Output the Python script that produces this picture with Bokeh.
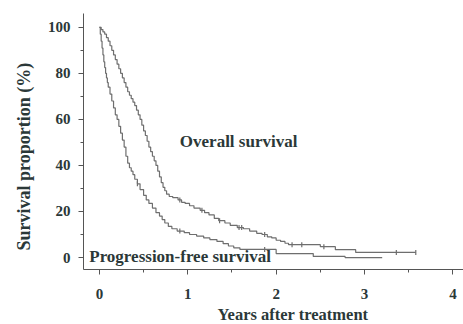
import numpy as np
from bokeh.plotting import figure
from bokeh.models import Label, Range1d, FixedTicker, Title
from bokeh.embed import file_html
from bokeh.resources import INLINE

# Overall survival (Kaplan-Meier steps)
os_time = [0, 0.02, 0.04, 0.06, 0.08, 0.10, 0.12, 0.14, 0.16, 0.18, 0.20, 0.22, 0.24,
           0.26, 0.28, 0.30, 0.32, 0.34, 0.36, 0.38, 0.40, 0.42, 0.44, 0.46, 0.48, 0.50,
           0.52, 0.54, 0.56, 0.58, 0.60, 0.62, 0.64, 0.66, 0.68, 0.70, 0.72, 0.74, 0.76,
           0.79, 0.83, 0.89, 0.93, 0.97, 1.02, 1.07, 1.14, 1.19, 1.24, 1.30, 1.35, 1.42,
           1.48, 1.56, 1.63, 1.70, 1.78, 1.84, 1.90, 1.95, 2.00, 2.05, 2.10, 2.14, 2.50,
           2.67, 2.90, 3.58]
os_surv = [100, 99, 98, 97, 95.5, 94, 92, 90, 88, 86, 84, 82, 80,
           78, 76, 74, 72, 70.5, 69, 67.5, 66, 64, 62, 60, 57.5, 55,
           53, 50.5, 48, 46, 44, 42, 40, 37.5, 35, 32.5, 30.5, 29, 27.5,
           26.5, 26, 25, 24, 23.5, 22.5, 21.5, 20.5, 19.5, 18.5, 17, 16, 15,
           14, 13, 12.5, 11.5, 10.5, 10, 9, 8.5, 7.5, 7, 6.2, 5.6, 4.7,
           3.4, 2.2, 2.2]
os_censor = [0.91, 1.16, 1.36, 1.58, 1.61, 1.87, 2.18, 2.29, 2.54, 3.36, 3.58]

# Progression-free survival
pfs_time = [0, 0.01, 0.02, 0.03, 0.04, 0.05, 0.06, 0.07, 0.08, 0.09, 0.10, 0.12, 0.14,
            0.16, 0.18, 0.20, 0.22, 0.24, 0.26, 0.28, 0.30, 0.32, 0.34, 0.36, 0.38, 0.40,
            0.43, 0.46, 0.50, 0.53, 0.56, 0.60, 0.64, 0.68, 0.71, 0.74, 0.78, 0.82, 0.88,
            0.96, 1.02, 1.10, 1.18, 1.25, 1.33, 1.40, 1.46, 1.52, 1.59, 2.00, 2.42, 2.78,
            3.20]
pfs_surv = [100, 97, 94, 91, 88, 85, 82.5, 80, 78, 76, 74, 71, 68,
            65, 62, 60, 57, 54, 51, 48, 44, 41, 39, 37.5, 36, 34,
            32, 29.5, 27, 25, 23.5, 21.5, 19.5, 18, 16.5, 15, 13.5, 12.5, 11.5,
            10.8, 10, 9.3, 8.5, 7.8, 7, 6, 5, 4.2, 3.5, 1.7, 0.5, 0,
            0]
pfs_censor = [0.43, 0.91, 1.87]

x_ticks = [0, 1, 2, 3, 4]
y_ticks = [0, 20, 40, 60, 80, 100]

TXT = "#2b3838"
LINE = "#6e6e6e"
FONT = "Liberation Serif"


def step_value(times, surv, t):
    idx = np.searchsorted(np.asarray(times), t, side="right") - 1
    return [surv[i] for i in idx]


p = figure(width=463, height=324, output_backend="svg", toolbar_location=None,
           x_range=Range1d(-0.18, 4.12), y_range=Range1d(-5.2, 106),
           min_border_left=81, min_border_right=0, min_border_top=13, min_border_bottom=53)
p.outline_line_color = None
p.grid.visible = False
p.background_fill_color = "white"

p.step(os_time, os_surv, mode="after", line_color=LINE, line_width=1.2)
p.step(pfs_time, pfs_surv, mode="after", line_color=LINE, line_width=1.2)

p.scatter(os_censor, step_value(os_time, os_surv, os_censor), marker="dash", angle=np.pi / 2,
          size=5, line_color=LINE, line_width=1.2)
p.scatter(pfs_censor, step_value(pfs_time, pfs_surv, pfs_censor), marker="dash", angle=np.pi / 2,
          size=5, line_color=LINE, line_width=1.2)

p.add_layout(Label(x=0.91, y=50.5, text="Overall survival", text_font=FONT,
                   text_font_style="bold", text_font_size="17px", text_color=TXT,
                   text_baseline="middle"))
p.add_layout(Label(x=-0.115, y=0.3, text="Progression-free survival", text_font=FONT,
                   text_font_style="bold", text_font_size="17px", text_color=TXT,
                   text_baseline="middle"))

# axis titles, offset along the axis as in the original figure
p.add_layout(Title(text="Years after treatment", align="left", offset=134, standoff=2,
                   text_font=FONT, text_font_style="bold", text_font_size="16.5px",
                   text_color=TXT), "below")
p.add_layout(Title(text="Survival proportion (%)", align="left", offset=19, standoff=22,
                   text_font=FONT, text_font_style="bold", text_font_size="18px",
                   text_color=TXT), "left")

for ax in (p.xaxis, p.yaxis):
    ax.axis_line_color = "#555555"
    ax.major_tick_line_color = "#555555"
    ax.minor_tick_line_color = "#555555"
    ax.major_tick_in = 0
    ax.major_tick_out = 5
    ax.minor_tick_in = 0
    ax.minor_tick_out = 3
    ax.major_label_text_font = FONT
    ax.major_label_text_font_style = "bold"
    ax.major_label_text_font_size = "15px"
    ax.major_label_text_color = TXT

p.xaxis.ticker = FixedTicker(ticks=x_ticks, minor_ticks=[0.5, 1.5, 2.5, 3.5])
p.yaxis.ticker = FixedTicker(ticks=y_ticks, minor_ticks=[10, 30, 50, 70, 90])
p.xaxis.major_label_standoff = 14
p.yaxis.major_label_standoff = 8

open("out.html", "w").write(file_html(p, INLINE))
